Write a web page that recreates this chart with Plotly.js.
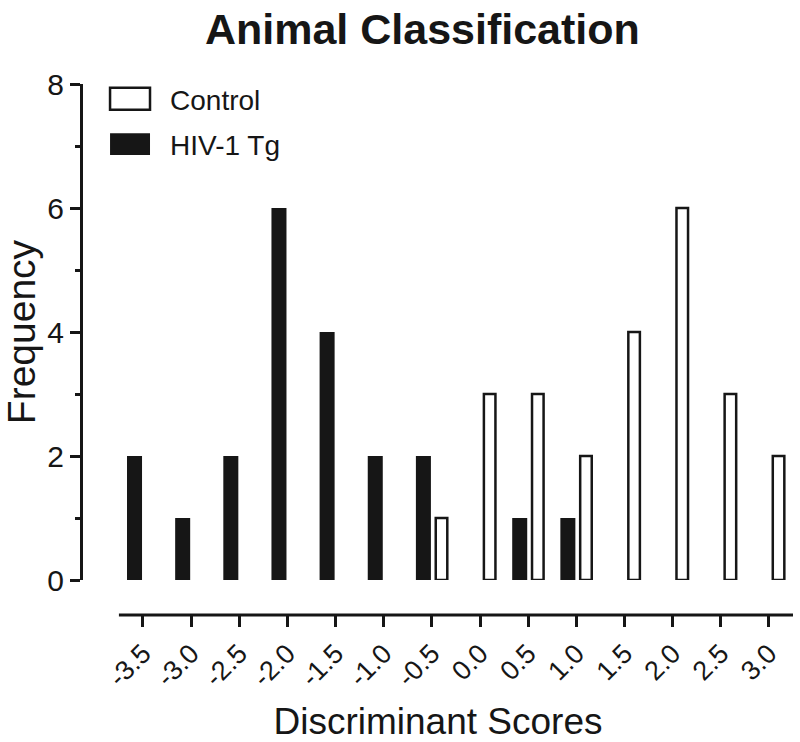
<!DOCTYPE html>
<html>
<head>
<meta charset="utf-8">
<script src="https://cdn.plot.ly/plotly-3.0.1.min.js"></script>
<style>
  html, body { margin: 0; padding: 0; background: #ffffff; }
  #chart { width: 800px; height: 742px; }
  /* enlarge the legend swatches into wide rectangles (legend symbol centre = (itemwidth + 10) / 2) */
  .legend .legendpoints path {
    transform: translate(40px, 0px) scale(3.33, 1.83);
    transform-box: fill-box;
    transform-origin: center;
    vector-effect: non-scaling-stroke;
  }
</style>
</head>
<body>
<div id="chart"></div>
<script>
// Discriminant score bins (x), tick labels, and frequencies per group
const scores = [-3.5, -3.0, -2.5, -2.0, -1.5, -1.0, -0.5, 0.0, 0.5, 1.0, 1.5, 2.0, 2.5, 3.0];
const tickLabels = ['-3.5', '-3.0', '-2.5', '-2.0', '-1.5', '-1.0', '-0.5', '0.0', '0.5', '1.0', '1.5', '2.0', '2.5', '3.0'];
const controlCounts = [0, 0, 0, 0, 0, 0, 1, 3, 3, 2, 4, 6, 3, 2];
const hivCounts = [2, 1, 2, 6, 4, 2, 2, 0, 1, 1, 0, 0, 0, 0];
const seriesNames = ['Control', 'HIV-1 Tg'];
const yTicks = [0, 2, 4, 6, 8];

const FONT = 'Liberation Sans, Arial, Helvetica, sans-serif';
const INK = '#161616';

// empty bins are not drawn at all
const hideEmpty = v => (v === 0 ? null : v);

const traces = [
  {
    type: 'bar',
    name: seriesNames[0],
    legendgroup: 'g1',
    x: scores,
    y: controlCounts.map(hideEmpty),
    width: 0.12,
    offset: 0.04,
    marker: { color: '#ffffff', line: { color: INK, width: 2.5 } },
    hoverinfo: 'x+y+name'
  },
  {
    type: 'bar',
    name: seriesNames[1],
    legendgroup: 'g2',
    x: scores,
    y: hivCounts.map(hideEmpty),
    width: 0.156,
    offset: -0.166,
    marker: { color: INK, line: { color: INK, width: 0 } },
    hoverinfo: 'x+y+name'
  }
];

const xRange = [-4.123, 3.25];
const xLineStart = -3.75;

const layout = {
  width: 800,
  height: 742,
  paper_bgcolor: '#ffffff',
  plot_bgcolor: '#ffffff',
  font: { family: FONT, color: INK },
  margin: { l: 83, r: 7, t: 84, b: 127, autoexpand: false },
  barmode: 'overlay',
  showlegend: true,
  title: {
    text: 'Animal Classification',
    font: { family: FONT, size: 43, weight: 'bold', color: INK },
    xref: 'container', x: 0.528, xanchor: 'center',
    yref: 'container', y: 0.961, yanchor: 'middle'
  },
  xaxis: {
    domain: [0, 1],
    anchor: 'free',
    position: 0,
    range: xRange,
    tickmode: 'array',
    tickvals: scores,
    ticktext: tickLabels,
    tickangle: -45,
    ticks: 'outside',
    ticklen: 11,
    tickwidth: 3,
    tickcolor: INK,
    showline: false,
    showgrid: false,
    zeroline: false,
    automargin: false,
    tickfont: { family: FONT, size: 27, color: INK },
    title: { text: 'Discriminant Scores', font: { family: FONT, size: 37, color: INK } }
  },
  yaxis: {
    domain: [0.0659, 1],
    anchor: 'x',
    range: [0, 8],
    tickmode: 'array',
    tickvals: yTicks,
    ticks: 'outside',
    ticklen: 10,
    tickwidth: 3,
    tickcolor: INK,
    minor: { dtick: 1, ticks: 'outside', ticklen: 5, tickwidth: 3, tickcolor: INK, showgrid: false },
    showline: true,
    linewidth: 3,
    linecolor: INK,
    showgrid: false,
    zeroline: false,
    automargin: true,
    tickfont: { family: FONT, size: 30, color: INK },
    title: { text: 'Frequency', font: { family: FONT, size: 39, color: INK }, standoff: 19 }
  },
  shapes: [
    // detached x-axis baseline (GraphPad style)
    { type: 'line', xref: 'x', yref: 'paper', x0: xLineStart, x1: xRange[1], y0: 0, y1: 0,
      line: { color: INK, width: 3 } }
  ],
  legend: {
    xref: 'paper', yref: 'paper',
    x: 0.0099, xanchor: 'left',
    y: 1.0188, yanchor: 'top',
    bgcolor: 'rgba(0,0,0,0)',
    borderwidth: 0,
    itemwidth: 70,
    tracegroupgap: 6,
    traceorder: 'grouped',
    font: { family: FONT, size: 28, color: INK }
  }
};

Plotly.newPlot('chart', traces, layout, { displayModeBar: false, staticPlot: true });
</script>
</body>
</html>
